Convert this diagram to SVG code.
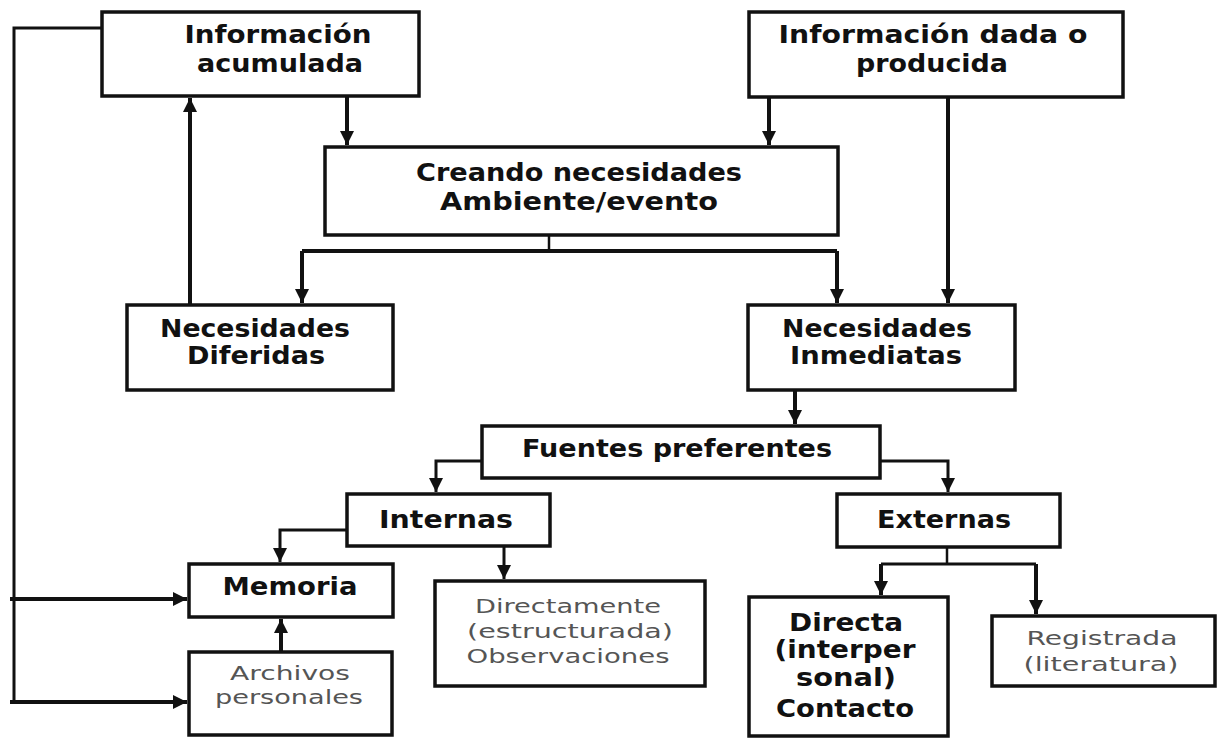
<svg xmlns="http://www.w3.org/2000/svg" width="1218" height="738" viewBox="0 0 1218 738">
<style>
.box{fill:#fff;stroke:#111;stroke-width:3.5}
.t{font-family:"DejaVu Sans","Liberation Sans",sans-serif;font-weight:bold;font-size:25px;fill:#111;text-anchor:middle}
.r{font-family:"DejaVu Sans","Liberation Sans",sans-serif;font-size:20px;fill:#555;text-anchor:middle}
.c{fill:none;stroke:#111;stroke-width:4}
</style>
<defs>
<marker id="ah" markerUnits="userSpaceOnUse" markerWidth="16" markerHeight="14" refX="14" refY="7" orient="auto">
<path d="M0,0 L14,7 L0,14 Z" fill="#111"/>
</marker>
</defs>
<rect width="1218" height="738" fill="#fff"/>
<g id="connectors">
<path class="c" d="M347,96 V145" marker-end="url(#ah)"/>
<path class="c" d="M769,97 V145" marker-end="url(#ah)"/>
<path class="c" d="M948,97 V303" marker-end="url(#ah)"/>
<path class="c" style="stroke-width:2.5" d="M549,235 V251"/>
<path class="c" d="M302,251 H837"/>
<path class="c" d="M302,251 V303" marker-end="url(#ah)"/>
<path class="c" d="M837,251 V303" marker-end="url(#ah)"/>
<path class="c" d="M190,305 V98" marker-end="url(#ah)"/>
<path class="c" style="stroke-width:3" d="M102,28 H14 V702"/>
<path class="c" d="M10,599 H187" marker-end="url(#ah)"/>
<path class="c" d="M10,702 H187" marker-end="url(#ah)"/>
<path class="c" d="M795,390 V424" marker-end="url(#ah)"/>
<path class="c" style="stroke-width:3" d="M482,461 H436 V492" marker-end="url(#ah)"/>
<path class="c" style="stroke-width:3" d="M880,461 H948 V492" marker-end="url(#ah)"/>
<path class="c" style="stroke-width:3" d="M347,530 H280 V562" marker-end="url(#ah)"/>
<path class="c" style="stroke-width:3" d="M504,546 V579" marker-end="url(#ah)"/>
<path class="c" style="stroke-width:2.5" d="M947,547 V564"/>
<path class="c" style="stroke-width:3" d="M881,564 H1036"/>
<path class="c" d="M881,564 V595" marker-end="url(#ah)"/>
<path class="c" d="M1036,564 V614" marker-end="url(#ah)"/>
<path class="c" d="M281,652 V619" marker-end="url(#ah)"/>
</g>
<g id="info-acumulada">
<rect class="box" x="102" y="12" width="317" height="84"/>
<text class="t" x="278" y="43" textLength="187" lengthAdjust="spacingAndGlyphs">Información</text>
<text class="t" x="280" y="72" textLength="166" lengthAdjust="spacingAndGlyphs">acumulada</text>
</g>
<g id="info-dada">
<rect class="box" x="749" y="12" width="374" height="85"/>
<text class="t" x="933" y="43" textLength="309" lengthAdjust="spacingAndGlyphs">Información dada o</text>
<text class="t" x="932" y="72" textLength="152" lengthAdjust="spacingAndGlyphs">producida</text>
</g>
<g id="creando">
<rect class="box" x="325" y="147" width="513" height="88"/>
<text class="t" x="579" y="181" textLength="326" lengthAdjust="spacingAndGlyphs">Creando necesidades</text>
<text class="t" x="579" y="210" textLength="278" lengthAdjust="spacingAndGlyphs">Ambiente/evento</text>
</g>
<g id="nec-diferidas">
<rect class="box" x="127" y="305" width="266" height="85"/>
<text class="t" x="255" y="337" textLength="190" lengthAdjust="spacingAndGlyphs">Necesidades</text>
<text class="t" x="256" y="364" textLength="138" lengthAdjust="spacingAndGlyphs">Diferidas</text>
</g>
<g id="nec-inmediatas">
<rect class="box" x="748" y="305" width="267" height="85"/>
<text class="t" x="877" y="337" textLength="190" lengthAdjust="spacingAndGlyphs">Necesidades</text>
<text class="t" x="876" y="364" textLength="172" lengthAdjust="spacingAndGlyphs">Inmediatas</text>
</g>
<g id="fuentes">
<rect class="box" x="482" y="426" width="398" height="52"/>
<text class="t" x="677" y="457" textLength="310" lengthAdjust="spacingAndGlyphs">Fuentes preferentes</text>
</g>
<g id="internas">
<rect class="box" x="347" y="494" width="203" height="52"/>
<text class="t" x="446" y="528" textLength="134" lengthAdjust="spacingAndGlyphs">Internas</text>
</g>
<g id="externas">
<rect class="box" x="837" y="494" width="223" height="53"/>
<text class="t" x="944" y="528" textLength="134" lengthAdjust="spacingAndGlyphs">Externas</text>
</g>
<g id="memoria">
<rect class="box" x="189" y="564" width="204" height="53"/>
<text class="t" x="290" y="595" textLength="135" lengthAdjust="spacingAndGlyphs">Memoria</text>
</g>
<g id="archivos">
<rect class="box" x="189" y="652" width="203" height="83"/>
<text class="r" x="290" y="680" textLength="120" lengthAdjust="spacingAndGlyphs">Archivos</text>
<text class="r" x="289" y="704" textLength="148" lengthAdjust="spacingAndGlyphs">personales</text>
</g>
<g id="directamente">
<rect class="box" x="435" y="581" width="270" height="105"/>
<text class="r" x="568" y="613" textLength="186" lengthAdjust="spacingAndGlyphs">Directamente</text>
<text class="r" x="570" y="638" textLength="206" lengthAdjust="spacingAndGlyphs">(estructurada)</text>
<text class="r" x="568" y="663" textLength="203" lengthAdjust="spacingAndGlyphs">Observaciones</text>
</g>
<g id="directa">
<rect class="box" x="749" y="597" width="199" height="139"/>
<text class="t" x="846" y="631" textLength="114" lengthAdjust="spacingAndGlyphs">Directa</text>
<text class="t" x="845" y="658" textLength="141" lengthAdjust="spacingAndGlyphs">(interper</text>
<text class="t" x="846" y="686" textLength="100" lengthAdjust="spacingAndGlyphs">sonal)</text>
<text class="t" x="845" y="717" textLength="138" lengthAdjust="spacingAndGlyphs">Contacto</text>
</g>
<g id="registrada">
<rect class="box" x="992" y="616" width="223" height="70"/>
<text class="r" x="1102" y="645" textLength="151" lengthAdjust="spacingAndGlyphs">Registrada</text>
<text class="r" x="1101" y="671" textLength="155" lengthAdjust="spacingAndGlyphs">(literatura)</text>
</g>
</svg>
